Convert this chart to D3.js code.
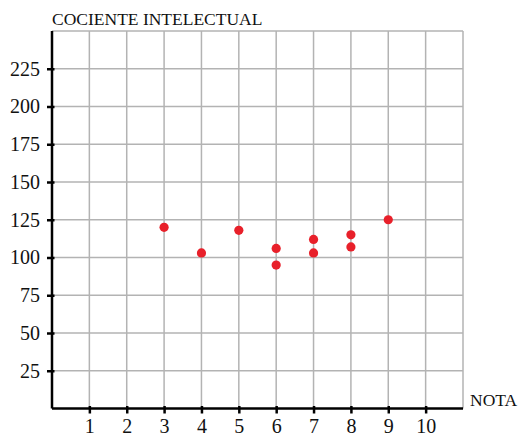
<!DOCTYPE html>
<html>
<head>
<meta charset="utf-8">
<script src="https://cdn.jsdelivr.net/npm/d3@7"></script>
<style>
  body { margin: 0; background: #fff; }
  text { font-family: "Liberation Serif", "DejaVu Serif", serif; fill: #111; }
</style>
</head>
<body>
<script>
var notas = [3, 4, 5, 6, 6, 7, 7, 8, 8, 9],
    ci    = [120, 103, 118, 106, 95, 112, 103, 115, 107, 125];
var xTicks = [1, 2, 3, 4, 5, 6, 7, 8, 9, 10],
    yTicks = [25, 50, 75, 100, 125, 150, 175, 200, 225];

var width = 529, height = 437,
    padL = 52, padR = 463, padT = 31, padB = 408.5;

var svg = d3.select("body").append("svg")
    .attr("width", width)
    .attr("height", height);

var x = d3.scaleLinear().domain([0, 11]).range([padL, padR]);
var y = d3.scaleLinear().domain([0, 250]).range([padB, padT]);

// grid
svg.append("g").selectAll("line")
    .data(d3.range(1, 12))
    .enter().append("line")
    .attr("x1", function(d) { return x(d); })
    .attr("x2", function(d) { return x(d); })
    .attr("y1", y(0))
    .attr("y2", y(250))
    .attr("stroke", "#b3b3b3")
    .attr("stroke-width", 1.5);

svg.append("g").selectAll("line")
    .data(d3.range(25, 251, 25))
    .enter().append("line")
    .attr("x1", x(0))
    .attr("x2", x(11))
    .attr("y1", function(d) { return y(d); })
    .attr("y2", function(d) { return y(d); })
    .attr("stroke", "#b3b3b3")
    .attr("stroke-width", 1.5);

// axes
var xAxis = svg.append("g")
    .attr("transform", "translate(0," + y(0) + ")")
    .call(d3.axisBottom(x).tickValues(xTicks).tickSize(5).tickSizeOuter(0).tickPadding(5));
var yAxis = svg.append("g")
    .attr("transform", "translate(" + x(0) + ",0)")
    .call(d3.axisLeft(y).tickValues(yTicks).tickSize(5).tickSizeOuter(0).tickPadding(7));

[xAxis, yAxis].forEach(function(a) {
  a.select(".domain").attr("stroke", "#000").attr("stroke-width", 2.5);
  a.selectAll(".tick line").attr("stroke", "#000").attr("stroke-width", 2.5);
  a.selectAll("text")
      .style("font-family", "'Liberation Serif', serif")
      .style("font-size", "20px")
      .attr("fill", "#111");
});
xAxis.selectAll(".tick line").attr("y1", -2.5);
yAxis.selectAll(".tick line").attr("x1", 2.5);
xAxis.select(".domain").attr("d", "M" + x(0) + ",0H" + x(11));
yAxis.select(".domain").attr("d", "M0," + y(0) + "V" + y(250));

// labels
svg.append("text")
    .attr("x", 52).attr("y", 25)
    .style("font-size", "17.5px")
    .text("COCIENTE INTELECTUAL");
svg.append("text")
    .attr("x", 470).attr("y", 406)
    .style("font-size", "17.5px")
    .text("NOTA");

// points
svg.append("g").selectAll("circle")
    .data(notas)
    .enter().append("circle")
    .attr("cx", function(d) { return x(d); })
    .attr("cy", function(d, i) { return y(ci[i]); })
    .attr("r", 4.6)
    .attr("fill", "#e8202a");
</script>
</body>
</html>
